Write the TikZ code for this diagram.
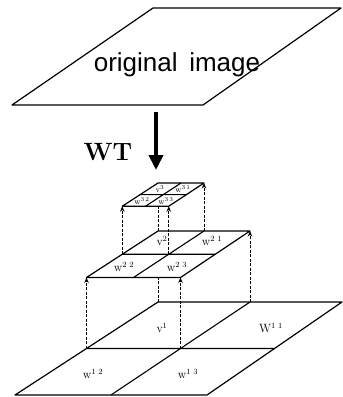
\documentclass[tikz,border=0pt]{standalone}
\usepackage{fontspec}
\usepackage{tikz}
\usetikzlibrary{arrows.meta, calc}
\newfontfamily\origfont{Liberation Sans}

\begin{document}
\begin{tikzpicture}[x=1pt, y=-1pt,
  plane/.style={draw, line width=1.2pt, fill=white, line join=round},
  cellline/.style={line width=1.1pt},
  proj/.style={line width=0.9pt, dash pattern=on 3pt off 1.5pt},
  projarrow/.style={proj, -{Stealth[length=5.5pt, width=4.5pt]}},
  coef/.style={inner sep=0pt, font=\fontsize{12}{12}\selectfont},
  coefsmall/.style={inner sep=0pt, font=\fontsize{8}{8}\selectfont}]
  \useasboundingbox (0,0) rectangle (343,397);

  % original image
  \draw[plane] (12,105) -- (203,105) -- (341,8) -- (153,8) -- cycle;
  \node[font=\origfont\fontsize{26}{26}\selectfont] (orig) at (177,65) {original\hspace{0.45em}image};

  % transform arrow
  \coordinate (wttop) at (156,112);
  \coordinate (wttip) at (156,170);
  \draw[line width=4.5pt, -{Triangle[length=15pt, width=14pt]}] (wttop) -- (wttip);
  \node[font=\bfseries\fontsize{25}{25}\selectfont] (wt) at (108,152) {WT};

  % level 1
  \coordinate (a1) at (15,395);
  \coordinate (b1) at (207,395);
  \coordinate (c1) at (342,302);
  \coordinate (d1) at (158,302);
  \coordinate (ab1) at ($(a1)!0.5!(b1)$);
  \coordinate (bc1) at ($(b1)!0.5!(c1)$);
  \coordinate (cd1) at ($(c1)!0.5!(d1)$);
  \coordinate (da1) at ($(d1)!0.5!(a1)$);
  \coordinate (m1) at ($(da1)!0.5!(bc1)$);
  \draw[plane] (a1) -- (b1) -- (c1) -- (d1) -- cycle;
  \draw[cellline] (da1) -- (bc1) (ab1) -- (cd1);
  \node[coef] (v1) at (162,328) {v$^{1}$};
  \node[coef] (w11) at (271,328) {W$^{1\,\,1}$};
  \node[coef] (w12) at (93,374) {w$^{1\,\,2}$};
  \node[coef] (w13) at (188,374) {w$^{1\,\,3}$};

  % level 2
  \coordinate (a2) at ($(da1)+(0,-71)$);
  \coordinate (b2) at ($(m1)+(0,-71)$);
  \coordinate (c2) at ($(cd1)+(0,-71)$);
  \coordinate (d2) at ($(d1)+(0,-71)$);
  \draw[projarrow] (da1) -- (a2);
  \draw[projarrow] (m1) -- (b2);
  \draw[projarrow] (cd1) -- (c2);
  \draw[proj] (d1) -- (d2);
  \coordinate (ab2) at ($(a2)!0.5!(b2)$);
  \coordinate (bc2) at ($(b2)!0.5!(c2)$);
  \coordinate (cd2) at ($(c2)!0.5!(d2)$);
  \coordinate (da2) at ($(d2)!0.5!(a2)$);
  \coordinate (m2) at ($(da2)!0.5!(bc2)$);
  \draw[plane] (a2) -- (b2) -- (c2) -- (d2) -- cycle;
  \draw[cellline] (da2) -- (bc2) (ab2) -- (cd2);
  \node[coef] (v2) at (162,241) {v$^{2}$};
  \node[coef] (w21) at (212,241) {w$^{2\,\,1}$};
  \node[coef] (w22) at (124,267) {w$^{2\,\,2}$};
  \node[coef] (w23) at (177,267) {w$^{2\,\,3}$};

  % level 3
  \coordinate (a3) at ($(da2)+(0,-48)$);
  \coordinate (b3) at ($(m2)+(0,-48)$);
  \coordinate (c3) at ($(cd2)+(0,-48)$);
  \coordinate (d3) at ($(d2)+(0,-48)$);
  \draw[projarrow] (da2) -- (a3);
  \draw[projarrow] (m2) -- (b3);
  \draw[projarrow] (cd2) -- (c3);
  \draw[proj] (d2) -- (d3);
  \draw[plane] (a3) -- (b3) -- (c3) -- (d3) -- cycle;
  \draw[cellline] ($(d3)!0.5!(a3)$) -- ($(b3)!0.5!(c3)$)
                  ($(a3)!0.5!(b3)$) -- ($(c3)!0.5!(d3)$);
  \node[coefsmall] (v3) at (160,189) {v$^{3}$};
  \node[coefsmall] (w31) at (183,189) {w$^{3\,1}$};
  \node[coefsmall] (w32) at (142,201) {w$^{3\,2}$};
  \node[coefsmall] (w33) at (166,201) {w$^{3\,3}$};
\end{tikzpicture}
\end{document}
